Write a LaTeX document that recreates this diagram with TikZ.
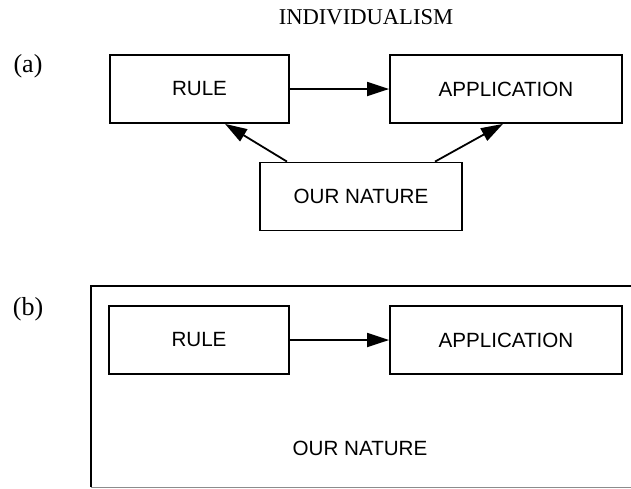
\documentclass[tikz,border=0pt]{standalone}
\usepackage{fontspec}
\setmainfont{Liberation Serif}
\setsansfont{Liberation Sans}
\usetikzlibrary{arrows.meta}

\begin{document}
\begin{tikzpicture}
[x=0.5pt,y=-0.5pt,
  boxdecorate/.style={shape=rectangle,draw,line width=0.9pt,inner sep=0pt,%
    minimum height=34pt,font=\sffamily\fontsize{10.3}{12}\selectfont},%
  linedecorate/.style={-{Triangle[length=11pt,width=7pt]},line width=0.9pt},%
  labeldecorate/.style={inner sep=0pt,font=\fontsize{13}{15}\selectfont},%
  titledecorate/.style={inner sep=0pt,font=\fontsize{11.3}{13}\selectfont}]
\useasboundingbox (0,0) rectangle (631,488);
%% title and part labels
\node (title) at (366,17) [titledecorate] {INDIVIDUALISM};
\node (laba) at (28,66) [labeldecorate] {(a)};
\node (labb) at (28,309) [labeldecorate] {(b)};
%% outer frame of part (b), open on the right where the page ends
\node (outerb) at (375,386.5) [shape=rectangle,inner sep=0pt,%
  minimum width=284pt,minimum height=100.5pt] {};
\draw[line width=0.9pt] (outerb.north east) -- (outerb.north west) -- (outerb.south west);
\draw[line width=0.9pt,black!45] (outerb.south west) -- (outerb.south east);
%% boxes
\foreach \nodename/\x/\y/\w/\txt in {
rulea/199.5/89/89.5/RULE, appa/506/89/116/APPLICATION, natura/361/196.5/101/OUR NATURE,
ruleb/199/340/90/RULE, appb/506/340/116/APPLICATION}
{
  \node (\nodename) at (\x,\y) [boxdecorate,minimum width=\w pt] {\txt};
}
\node (naturb) at (360,448) [font=\sffamily\fontsize{10.3}{12}\selectfont] {OUR NATURE};
%% arrows
\draw[linedecorate] (rulea) -- (appa);
\draw[linedecorate] ([xshift=-37pt]natura.north) -- ([xshift=12.75pt]rulea.south);
\draw[linedecorate] ([xshift=37pt]natura.north) -- ([xshift=-1.5pt]appa.south);
\draw[linedecorate] (ruleb) -- (appb);
\end{tikzpicture}
\end{document}
